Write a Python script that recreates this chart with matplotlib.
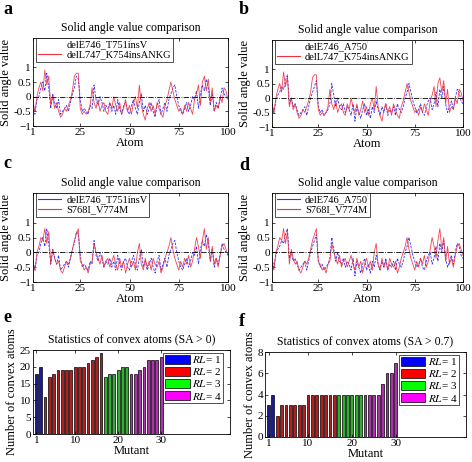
import matplotlib
matplotlib.use("Agg")
import matplotlib.pyplot as plt
from matplotlib.patches import Patch
import numpy as np

plt.rcParams["font.family"] = ["Liberation Serif", "DejaVu Serif"]
plt.rcParams["mathtext.fontset"] = "stix"

# solid angle values per atom (1..100)
atoms = np.arange(1, 101)
sa_e746_t751 = [-0.3, -0.6, -0.1, 0.0, 0.3, 0.5, 0.2, 0.8, 0.3, -0.4,
                0.1, -0.2, -0.4, -0.1, -0.6, -0.5, -0.4, -0.3, -0.5, -0.2,
                0.1, 0.3, 0.7, 0.6, -0.1, -0.5, -0.4, -0.5, -0.6, -0.3,
                -0.4, 0.4, -0.1, -0.3, 0.0, -0.2, -0.5, -0.3, -0.4, -0.2,
                -0.5, -0.3, -0.6, -0.1, -0.4, -0.6, -0.3, -0.2, -0.5, -0.6,
                -0.3, -0.1, -0.4, -0.6, -0.2, 0.1, -0.5, -0.3, -0.6, -0.4,
                -0.2, -0.5, -0.7, -0.3, -0.1, -0.6, -0.4, -0.2, -0.5, -0.1,
                0.1, 0.3, 0.4, 0.0, -0.3, -0.5, -0.6, -0.4, -0.2, -0.5,
                -0.3, 0.0, -0.1, 0.2, -0.4, 0.1, 0.4, 0.2, 0.6, 0.3,
                -0.3, 0.1, -0.5, -0.2, -0.4, -0.1, 0.3, 0.1, 0.0, -0.1]
sa_l747_k754 = [-0.2, -0.5, 0.0, 0.3, 0.5, 0.2, 0.9, 0.4, 0.7, -0.3,
                0.0, -0.4, -0.2, -0.5, -0.7, -0.6, -0.4, -0.5, -0.3, -0.1,
                0.2, 0.7, 0.8, 0.8, -0.4, -0.6, -0.5, -0.6, -0.5, -0.3,
                0.3, -0.2, -0.4, -0.1, -0.5, -0.3, -0.2, -0.5, -0.6, -0.2,
                -0.4, 0.0, -0.3, -0.5, -0.2, -0.6, -0.4, -0.1, -0.5, -0.3,
                -0.6, -0.2, 0.0, -0.4, 0.4, -0.3, -0.6, -0.8, -0.4, -0.2,
                -0.5, -0.3, -0.6, -0.2, -0.4, -0.6, -0.7, -0.3, -0.1, 0.2,
                0.5, 0.2, -0.1, -0.3, -0.5, -0.4, -0.6, -0.3, -0.5, -0.2,
                -0.4, -0.6, -0.1, 0.1, 0.4, -0.3, 0.5, 0.7, 0.2, 0.6,
                -0.2, 0.3, -0.5, -0.3, -0.4, 0.0, -0.2, 0.3, 0.2, -0.1]
sa_e746_a750 = [-0.2, -0.5, -0.1, 0.1, 0.2, 0.4, 0.3, 0.6, 0.8, -0.2,
                0.0, -0.3, -0.2, -0.4, -0.6, -0.5, -0.4, -0.3, -0.6, -0.3,
                0.0, 0.2, 0.4, 0.6, -0.3, -0.5, -0.4, -0.6, -0.5, -0.4,
                -0.2, 0.5, 0.1, -0.3, 0.0, -0.3, -0.4, -0.2, -0.5, -0.3,
                -0.4, -0.6, -0.2, -0.8, -0.3, -0.5, -0.7, -0.4, -0.2, -0.6,
                -0.4, -0.7, -0.3, -0.5, -0.1, -0.4, -0.6, -0.3, -0.5, -0.2,
                -0.6, -0.4, -0.5, -0.3, -0.6, -0.2, -0.4, -0.5, -0.3, 0.0,
                0.2, 0.5, 0.2, -0.1, -0.3, -0.5, -0.4, -0.2, -0.5, -0.6,
                -0.3, -0.1, 0.0, -0.4, -0.2, 0.2, -0.3, 0.3, 0.0, 0.4,
                -0.2, -0.5, -0.3, -0.1, -0.4, 0.0, 0.3, 0.2, -0.1, -0.2]
sa_s768i_v774 = [-0.4, -0.6, 0.0, 0.2, 0.5, 0.4, 0.8, 0.3, 0.7, -0.4,
                 0.1, -0.2, -0.4, -0.3, -0.6, -0.7, -0.5, -0.3, -0.4, -0.2,
                 0.1, 0.4, 0.6, 0.8, -0.3, -0.4, -0.6, -0.5, -0.7, -0.4,
                 -0.3, 0.3, 0.0, -0.2, -0.4, -0.1, -0.5, -0.3, -0.2, -0.5,
                 -0.3, -0.1, -0.4, -0.6, -0.2, -0.5, -0.3, -0.7, -0.4, -0.2,
                 -0.5, -0.3, -0.6, 0.0, 0.3, -0.4, -0.6, -0.2, -0.5, -0.3,
                 -0.6, -0.2, -0.4, -0.5, -0.3, -0.7, -0.5, -0.2, 0.0, 0.2,
                 0.5, 0.1, -0.2, -0.4, -0.6, -0.3, -0.5, -0.2, -0.4, -0.1,
                 -0.5, -0.3, 0.1, 0.5, 0.2, -0.2, 0.4, 0.8, 0.1, 0.5,
                 -0.3, 0.2, -0.4, -0.2, -0.5, -0.1, 0.2, 0.3, 0.1, -0.1]

# convex atom counts per mutant (1..30) and reactivity level groups
mutants = np.arange(1, 31)
rl_level = [1, 1] + [2] * 14 + [3] * 6 + [4] * 8
convex_sa0 = [18, 20, 11, 17, 18, 19, 19, 19, 19, 20,
              20, 20, 21, 22, 23, 24, 17, 18, 18, 19,
              20, 20, 18, 18, 19, 20, 22, 22, 22, 23]
convex_sa07 = [3, 4, 2, 3, 3, 3, 3, 3, 3, 4,
               4, 4, 4, 4, 4, 4, 4, 4, 4, 4,
               4, 4, 4, 4, 4, 4, 5, 6, 6, 7]
rl_colors = {1: "#0000ff", 2: "#ff0000", 3: "#00ff00", 4: "#ff00ff"}
bar_fill = {1: "#1a1a9a", 2: "#b02020", 3: "#30b030", 4: "#b030b0"}

W, H = 472, 462
fig = plt.figure(figsize=(W / 100, H / 100), dpi=100)


def px(l, t, r, b):
    return [l / W, 1 - b / H, (r - l) / W, (b - t) / H]


def style(ax):
    ax.tick_params(direction="in", top=True, right=True, labelsize=8,
                   length=2.5, width=0.5, pad=1.5)
    for s in ax.spines.values():
        s.set_linewidth(0.6)


def panel_letter(x, y, letter):
    fig.text(x / W, 1 - y / H, letter, fontsize=13, fontweight="bold",
             va="center", ha="left")


def line_panel(rect, blue, red, names, show_first_line):
    ax = fig.add_axes(px(*rect))
    ax.plot(atoms, blue, color="#3030ff", lw=0.6, ls="--", dashes=(3, 1.5))
    ax.plot(atoms, red, color="#ee3040", lw=0.6, alpha=0.9)
    ax.axhline(0, color="k", lw=0.6, ls="-.")
    ax.set_xlim(1, 100)
    ax.set_ylim(-1, 2)
    ax.set_xticks([1, 25, 50, 75, 100])
    ax.set_yticks([-1, -0.5, 0, 0.5, 1])
    ax.set_yticklabels(["\u22121", "-0.5", "0", "0.5", "1"])
    style(ax)
    ax.set_title("Solid angle value comparison", fontsize=8.5, pad=5)
    ax.set_xlabel("Atom", fontsize=9, labelpad=0)
    ax.set_ylabel("Solid angle value", fontsize=9, labelpad=1)
    if show_first_line:
        h0 = plt.Line2D([], [], color="#3030ff", lw=0.8)
    else:
        h0 = plt.Line2D([], [], color="none")
    h1 = plt.Line2D([], [], color="#ee3040", lw=0.8)
    leg = ax.legend([h0, h1], names, loc="upper left", bbox_to_anchor=(0.015, 1.0),
                    fontsize=7.5, frameon=True, fancybox=False, borderaxespad=0,
                    handlelength=2.2, handletextpad=0.5, borderpad=0.2,
                    labelspacing=0.1)
    leg.get_frame().set_edgecolor("k")
    leg.get_frame().set_linewidth(0.6)
    return ax


line_panel((33, 38, 228, 126), sa_e746_t751, sa_l747_k754,
           ["delE746_T751insV", "delL747_K754insANKG"], False)
line_panel((272, 40, 463, 127), sa_e746_a750, sa_l747_k754,
           ["delE746_A750", "delL747_K754insANKG"], False)
line_panel((33, 193, 228, 282), sa_e746_t751, sa_s768i_v774,
           ["delE746_T751insV", "S768I_V774M"], True)
line_panel((272, 193, 463, 282), sa_e746_a750, sa_s768i_v774,
           ["delE746_A750", "S768I_V774M"], True)
panel_letter(3, 9, "a")
panel_letter(239, 10, "b")
panel_letter(3, 163, "c")
panel_letter(239, 165, "d")


def bar_panel(rect, counts, title, ymax, yticks):
    ax = fig.add_axes(px(*rect))
    cols = [bar_fill[r] for r in rl_level]
    ax.bar(mutants, counts, width=0.65, color=cols, edgecolor="k", linewidth=0.5)
    ax.set_xlim(0.2, 46)
    ax.set_ylim(0, ymax)
    ax.set_xticks([1, 10, 20, 30])
    ax.set_yticks(yticks)
    style(ax)
    ax.set_title(title, fontsize=8.5, pad=5)
    ax.set_xlabel("Mutant", fontsize=9, labelpad=0)
    ax.set_ylabel("Number of convex atoms", fontsize=9, labelpad=1)
    handles = [Patch(facecolor=rl_colors[k], edgecolor="k", linewidth=0.5)
               for k in (1, 2, 3, 4)]
    labels = [r"$\it{RL}$= %d" % k for k in (1, 2, 3, 4)]
    leg = ax.legend(handles, labels, loc="upper right", bbox_to_anchor=(0.965, 0.97),
                    fontsize=8, frameon=True, fancybox=False, borderaxespad=0,
                    handlelength=2.2, handleheight=0.9, handletextpad=0.2,
                    borderpad=0.15, labelspacing=0.1)
    leg.get_frame().set_edgecolor("k")
    leg.get_frame().set_linewidth(0.6)
    return ax


bar_panel((33, 350, 230, 434), convex_sa0,
          "Statistics of convex atoms (SA > 0)", 25, [0, 5, 10, 15, 20, 25])
bar_panel((265, 352, 466, 437), convex_sa07,
          "Statistics of convex atoms (SA > 0.7)", 8, [0, 2, 4, 6, 8])
panel_letter(3, 318, "e")
panel_letter(239, 322, "f")

fig.savefig("out.png", dpi=100)
